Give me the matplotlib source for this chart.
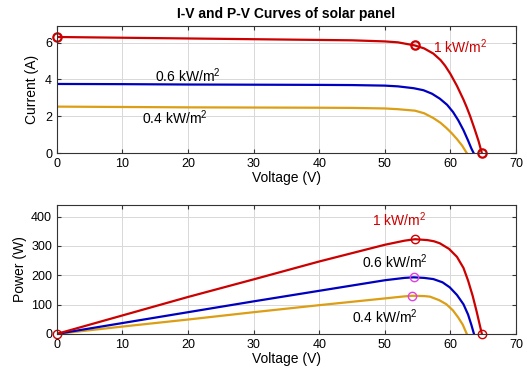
import matplotlib.pyplot as plt

plt.rcParams['font.family'] = ['Liberation Sans', 'DejaVu Sans']
plt.rcParams['mathtext.fontset'] = 'custom'
plt.rcParams['mathtext.rm'] = 'Liberation Sans'

# I-V data
v_red = [0, 10, 20, 30, 40, 45, 50, 52, 54.6, 56, 57.4, 58.5, 59.2, 60, 61, 62, 62.5, 63, 63.7, 64.3, 64.8]
i_red = [6.30, 6.26, 6.22, 6.18, 6.14, 6.12, 6.06, 6.01, 5.84, 5.68, 5.40, 5.05, 4.74, 4.30, 3.65, 2.90, 2.48, 2.02, 1.30, 0.65, 0.0]

v_blue = [0, 10, 20, 30, 40, 45, 50, 52, 54.4, 55.9, 57.2, 58.4, 59.5, 60.4, 61.2, 62.0, 62.7, 63.2, 63.55]
i_blue = [3.75, 3.74, 3.72, 3.71, 3.70, 3.69, 3.66, 3.62, 3.52, 3.41, 3.22, 2.95, 2.62, 2.23, 1.78, 1.24, 0.68, 0.25, 0]

v_yel = [0, 10, 20, 30, 40, 45, 50, 52, 54.6, 56, 57.4, 58.5, 59.4, 60.2, 61.0, 61.8, 62.5]
i_yel = [2.52, 2.50, 2.48, 2.47, 2.46, 2.45, 2.42, 2.38, 2.30, 2.16, 1.90, 1.64, 1.36, 1.08, 0.76, 0.40, 0]

# P-V data
v_pred = [0, 10, 20, 30, 40, 50, 53, 54.6, 56.5, 57.5, 58.4, 59.8, 61.0, 62.0, 62.7, 63.4, 64.0, 64.8]
p_red = [0, 63, 126, 186, 247, 304, 318, 323, 320, 316, 309, 290, 263, 225, 182, 130, 77, 0]

v_pblue = [0, 10, 20, 30, 40, 50, 53, 54.4, 56, 57.4, 58.8, 59.9, 61.0, 62.0, 62.7, 63.2, 63.6]
p_blue = [0, 37, 74, 111, 147, 183, 191, 193, 191, 187, 176, 159, 133, 101, 66, 31, 0]

v_pyel = [0, 10, 20, 30, 40, 50, 53, 54.2, 56, 56.9, 58.3, 59.4, 60.4, 61.2, 61.9, 62.5]
p_yel = [0, 25, 49, 74, 98, 121, 128, 130, 129, 127, 115, 101, 80, 56, 31, 0]

# marked points (Isc, MPP, Voc)
iv_marks_v = [0, 54.6, 64.8]
iv_marks_i = [6.30, 5.84, 0]
pv_red_marks_v = [0, 54.6, 64.8]
pv_red_marks_p = [0, 323, 0]
pv_mpp_v = [54.4, 54.2]
pv_mpp_p = [193, 130]

c_red = '#cc0000'
c_blue = '#0000c0'
c_yel = '#dc9e14'

fig = plt.figure(figsize=(5.27, 3.76), dpi=100)
ax1 = fig.add_axes([0.108, 0.593, 0.871, 0.338])
ax2 = fig.add_axes([0.108, 0.112, 0.871, 0.343])

for ax in (ax1, ax2):
    ax.grid(True, color='#d8d8d8', lw=0.7)
    ax.set_axisbelow(True)
    ax.tick_params(direction='in', top=True, right=True, labelsize=9, length=3, color='#333333')
    for s in ax.spines.values():
        s.set_color('#333333')
        s.set_linewidth(0.8)
    ax.set_xlim(0, 70)
    ax.set_xticks(range(0, 71, 10))
    ax.set_xlabel('Voltage (V)', fontsize=10, labelpad=1)

# top panel
ax1.plot(v_yel, i_yel, color=c_yel, lw=1.6)
ax1.plot(v_blue, i_blue, color=c_blue, lw=1.6)
ax1.plot(v_red, i_red, color=c_red, lw=1.6)
ax1.plot(iv_marks_v, iv_marks_i, 'o', mfc='none', mec=c_red, mew=1.6, ms=6, clip_on=False)
ax1.set_ylim(0, 6.9)
ax1.set_yticks([0, 2, 4, 6])
ax1.set_ylabel('Current (A)', fontsize=10, labelpad=4)
ax1.set_title('I-V and P-V Curves of solar panel', fontsize=10, fontweight='bold', pad=6)
ax1.text(57.3, 5.75, '1 kW/m$^2$', color=c_red, fontsize=10, va='center')
ax1.text(15, 4.2, '0.6 kW/m$^2$', color='black', fontsize=10, va='center')
ax1.text(13, 1.9, '0.4 kW/m$^2$', color='black', fontsize=10, va='center')

# bottom panel
ax2.plot(v_pyel, p_yel, color=c_yel, lw=1.6)
ax2.plot(v_pblue, p_blue, color=c_blue, lw=1.6)
ax2.plot(v_pred, p_red, color=c_red, lw=1.6)
ax2.plot(pv_red_marks_v, pv_red_marks_p, 'o', mfc='none', mec=c_red, mew=1.0, ms=6, clip_on=False)
ax2.plot(pv_mpp_v, pv_mpp_p, 'o', mfc='none', mec='#e040e0', mew=1.0, ms=6, clip_on=False)
ax2.set_ylim(0, 440)
ax2.set_yticks([0, 100, 200, 300, 400])
ax2.set_ylabel('Power (W)', fontsize=10, labelpad=3)
ax2.text(48, 390, '1 kW/m$^2$', color=c_red, fontsize=10, va='center')
ax2.text(46.5, 246, '0.6 kW/m$^2$', color='black', fontsize=10, va='center')
ax2.text(45, 60, '0.4 kW/m$^2$', color='black', fontsize=10, va='center')

plt.savefig('out.png', dpi=100)
